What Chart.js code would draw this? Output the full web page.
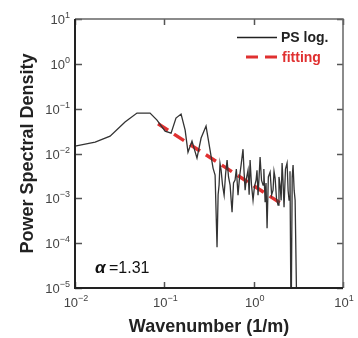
<!DOCTYPE html>
<html>
<head>
<meta charset="utf-8">
<script src="https://cdn.jsdelivr.net/npm/chart.js@4.4.1/dist/chart.umd.min.js"></script>
<style>
  html, body { margin: 0; padding: 0; background: #fff; }
  canvas { display: block; }
</style>
</head>
<body>
<canvas id="psd-chart" width="358" height="338"></canvas>
<script>
// wavenumber (1/m) and power spectral density
const waveNumber = [0.01, 0.0168, 0.0247, 0.0363, 0.0494, 0.0692, 0.0828, 0.102, 0.119, 0.135,
    0.154, 0.171, 0.184, 0.204, 0.232, 0.258, 0.293, 0.325, 0.351, 0.370,
    0.389, 0.400, 0.410, 0.420, 0.432, 0.448, 0.467, 0.485, 0.504, 0.523,
    0.545, 0.560, 0.573, 0.595, 0.619, 0.640, 0.668, 0.695, 0.723, 0.760,
    0.780, 0.802, 0.830, 0.865, 0.890, 0.912, 0.945, 0.984, 1.02, 1.064,
    1.09, 1.119, 1.15, 1.180, 1.225, 1.274, 1.30, 1.343, 1.375, 1.413,
    1.46, 1.528, 1.59, 1.648, 1.69, 1.738, 1.80, 1.875, 1.92, 1.977,
    2.03, 2.080, 2.13, 2.188, 2.27, 2.366, 2.43, 2.489, 2.55, 2.624,
    2.70, 2.761, 2.84, 2.911, 3.062];
const psLog = [0.0146, 0.0180, 0.0244, 0.0502, 0.0798, 0.0798, 0.0557, 0.0316, 0.0285, 0.0617,
    0.0757, 0.0333, 0.0107, 0.0189, 0.00789, 0.0221, 0.0409, 0.0119, 0.00472, 0.00330,
    0.0000815, 0.0012, 0.00197, 0.0060, 0.00426, 0.0020, 0.00118, 0.0035, 0.00713, 0.0030,
    0.00197, 0.0009, 0.000492, 0.0022, 0.00255, 0.0045, 0.00118, 0.0030, 0.00551, 0.0125,
    0.0040, 0.00152, 0.0028, 0.00426, 0.0012, 0.00713, 0.0020, 0.000912, 0.0018, 0.00255,
    0.0042, 0.00118, 0.0030, 0.00832, 0.0025, 0.00197, 0.0045, 0.000822, 0.0022, 0.000216,
    0.0030, 0.00385, 0.0012, 0.00152, 0.0040, 0.00282, 0.0010, 0.000705, 0.0030, 0.00197,
    0.0009, 0.00611, 0.0025, 0.000637, 0.0045, 0.00611, 0.0015, 0.000912, 0.0040, 0.000001,
    0.0030, 0.00551, 0.0015, 0.000912, 0.000001];

// power-law fit, alpha = 1.31
const fitK = [0.085, 2.0];
const fitP = [0.046, 0.00078];
const alphaText = '=1.31';

const xDecades = [0.01, 0.1, 1, 10];
const yDecades = [1e-5, 1e-4, 1e-3, 1e-2, 1e-1, 1, 10];

const toPoints = (xs, ys) => xs.map((x, i) => ({ x: x, y: ys[i] }));

const narrow = '"Liberation Sans Narrow", "Liberation Sans", Arial, sans-serif';
const sans = '"Liberation Sans", Arial, sans-serif';

// ticks, labels, frame and legend drawn onto the library's scales
const decorations = {
    id: 'decorations',
    afterDatasetsDraw(chart) {
        const ctx = chart.ctx;
        const area = chart.chartArea;
        const xs = chart.scales.x;
        const ys = chart.scales.y;
        ctx.save();

        // inner ticks on all four sides
        ctx.strokeStyle = '#555';
        ctx.lineWidth = 1.5;
        ctx.beginPath();
        xDecades.forEach(v => {
            const px = Math.round(xs.getPixelForValue(v)) + 0.5;
            ctx.moveTo(px, area.bottom); ctx.lineTo(px, area.bottom - 6);
            ctx.moveTo(px, area.top); ctx.lineTo(px, area.top + 6);
        });
        yDecades.forEach(v => {
            const py = Math.round(ys.getPixelForValue(v)) + 0.5;
            ctx.moveTo(area.left, py); ctx.lineTo(area.left + 7, py);
            ctx.moveTo(area.right, py); ctx.lineTo(area.right - 6, py);
        });
        ctx.stroke();

        // frame
        ctx.strokeStyle = '#666';
        ctx.lineWidth = 1.5;
        ctx.beginPath();
        ctx.moveTo(area.left, area.top); ctx.lineTo(area.right, area.top);
        ctx.lineTo(area.right, area.bottom);
        ctx.stroke();
        ctx.strokeStyle = '#222';
        ctx.lineWidth = 2;
        ctx.beginPath();
        ctx.moveTo(area.left, area.top); ctx.lineTo(area.left, area.bottom);
        ctx.lineTo(area.right, area.bottom);
        ctx.stroke();

        // tick labels 10^n
        ctx.fillStyle = '#444';
        ctx.textBaseline = 'alphabetic';
        const baseFont = '13px ' + narrow;
        const expFont = '9px ' + narrow;
        yDecades.forEach(v => {
            const e = String(Math.round(Math.log10(v))).replace('-', '\u2212');
            const py = ys.getPixelForValue(v);
            ctx.font = expFont;
            const ew = ctx.measureText(e).width;
            ctx.textAlign = 'left';
            ctx.fillText(e, 70 - ew, py - 1);
            ctx.font = baseFont;
            ctx.textAlign = 'right';
            ctx.fillText('10', 70 - ew, py + 5);
        });
        xDecades.forEach(v => {
            const e = String(Math.round(Math.log10(v))).replace('-', '\u2212');
            const px = xs.getPixelForValue(v);
            ctx.font = baseFont;
            const bw = ctx.measureText('10').width;
            ctx.font = expFont;
            const ew = ctx.measureText(e).width;
            const x0 = px - (bw + ew) / 2 + 1;
            ctx.font = baseFont;
            ctx.textAlign = 'left';
            ctx.fillText('10', x0, area.bottom + 19);
            ctx.font = expFont;
            ctx.fillText(e, x0 + bw, area.bottom + 13);
        });

        // axis titles
        ctx.fillStyle = '#222';
        ctx.font = 'bold 18px ' + sans;
        ctx.textAlign = 'center';
        ctx.fillText('Wavenumber (1/m)', (area.left + area.right) / 2, 332);
        ctx.save();
        ctx.translate(33, (area.top + area.bottom) / 2);
        ctx.rotate(-Math.PI / 2);
        ctx.fillText('Power Spectral Density', 0, 0);
        ctx.restore();

        // legend
        ctx.strokeStyle = '#222';
        ctx.lineWidth = 1.3;
        ctx.beginPath();
        ctx.moveTo(237, 37.5); ctx.lineTo(277, 37.5);
        ctx.stroke();
        ctx.strokeStyle = '#e03030';
        ctx.lineWidth = 3;
        ctx.setLineDash([12, 7]);
        ctx.beginPath();
        ctx.moveTo(246, 57); ctx.lineTo(277, 57);
        ctx.stroke();
        ctx.setLineDash([]);
        ctx.font = 'bold 14px ' + narrow;
        ctx.textAlign = 'left';
        ctx.fillStyle = '#222';
        ctx.fillText('PS log.', 281, 42);
        ctx.fillStyle = '#e03030';
        ctx.fillText('fitting', 282, 62);

        // alpha annotation
        ctx.fillStyle = '#111';
        ctx.font = 'italic bold 17px ' + sans;
        ctx.fillText('\u03b1', 95, 273);
        ctx.font = '16px ' + narrow;
        ctx.fillText(alphaText, 109, 273);

        ctx.restore();
    }
};

const data = {
    datasets: [{
        label: 'PS log.',
        data: toPoints(waveNumber, psLog),
        borderColor: '#333',
        borderWidth: 1.3,
        pointRadius: 0,
        tension: 0
    }, {
        label: 'fitting',
        data: toPoints(fitK, fitP),
        borderColor: '#e03030',
        borderWidth: 3.5,
        borderDash: [12, 7],
        pointRadius: 0
    }]
};

const config = {
    type: 'line',
    data: data,
    options: {
        responsive: false,
        animation: false,
        layout: {
            padding: { left: 75, top: 19, right: 15, bottom: 50 }
        },
        plugins: {
            legend: { display: false },
            tooltip: { enabled: false }
        },
        scales: {
            x: { type: 'logarithmic', min: 0.01, max: 10, display: false },
            y: { type: 'logarithmic', min: 1e-5, max: 10, display: false }
        }
    },
    plugins: [decorations]
};

var psdChart = new Chart(document.getElementById('psd-chart'), config);
</script>
</body>
</html>
